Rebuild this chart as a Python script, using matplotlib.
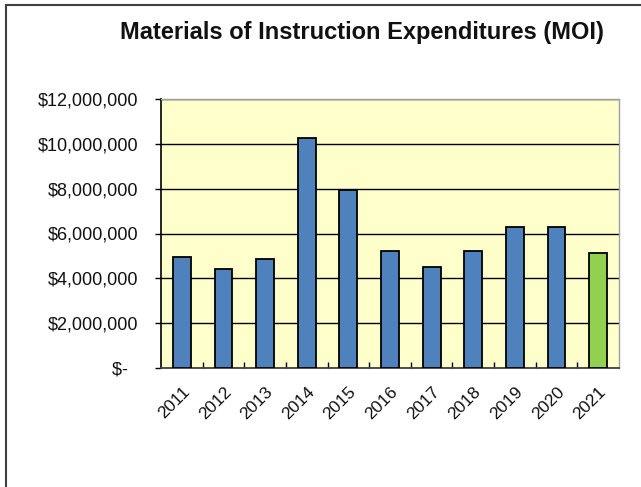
import matplotlib
matplotlib.use("Agg")
import matplotlib.pyplot as plt
from matplotlib.patches import Rectangle
from matplotlib.ticker import FuncFormatter, FixedLocator
from matplotlib.transforms import ScaledTranslation

years = ["2011", "2012", "2013", "2014", "2015", "2016", "2017", "2018", "2019", "2020", "2021"]
values = [4960000, 4400000, 4860000, 10280000, 7930000, 5220000, 4500000, 5220000, 6300000, 6300000, 5130000]
colors = ["#4F81BD"] * 10 + ["#92D050"]
yticks = [0, 2000000, 4000000, 6000000, 8000000, 10000000, 12000000]

plt.rcParams['font.family'] = ['Liberation Sans', 'DejaVu Sans']

W, H = 641, 487
fig = plt.figure(figsize=(W / 100, H / 100), dpi=100)
fig.patch.set_facecolor("white")

# outer chart border (cropped on right/bottom)
fig.patches.append(Rectangle((6 / W, -0.1), 1.2, (H - 5) / H + 0.1,
                             transform=fig.transFigure, fill=False,
                             edgecolor="#404040", linewidth=1.5))

left, right, top, bottom = 161, 619, 99.3, 367.7
ax = fig.add_axes([left / W, 1 - bottom / H, (right - left) / W, (bottom - top) / H])
ax.set_facecolor("#FFFFCC")

x = list(range(len(years)))
ax.bar(x, values, width=0.43, color=colors, edgecolor="black", linewidth=1.3, zorder=3)

ax.set_xlim(-0.5, len(years) - 0.5)
ax.set_ylim(0, 12000000)
ax.yaxis.set_major_locator(FixedLocator(yticks))

def fmt(v, pos):
    if v == 0:
        return "$-  "
    return "${:,.0f}".format(v)

ax.yaxis.set_major_formatter(FuncFormatter(fmt))
ax.grid(axis="y", color="black", linewidth=1.0, zorder=1)

ax.set_xticks(x)
ax.set_xticklabels(years, rotation=45, ha="right", va="top", rotation_mode="anchor",
                   fontsize=12.5, color="#111111")
shift = ScaledTranslation(-4 / 100, 0, fig.dpi_scale_trans)
for lbl in ax.get_xticklabels():
    lbl.set_transform(lbl.get_transform() + shift)
ax.tick_params(axis="x", length=0, pad=12)
ax.set_xticks([i + 0.5 for i in range(len(years) - 1)], minor=True)
ax.tick_params(axis="x", which="minor", direction="in", length=4.3, width=1, color="black")
ax.tick_params(axis="y", direction="out", length=4.3, width=1, pad=12,
               labelsize=13, labelcolor="#111111")

for s in ["top", "right"]:
    ax.spines[s].set_color("#A0A0A0")
    ax.spines[s].set_linewidth(1.0)
ax.spines["left"].set_color("black")
ax.spines["left"].set_linewidth(1.2)
ax.spines["bottom"].set_color("#404040")
ax.spines["bottom"].set_linewidth(1.3)

fig.text(362 / W, 1 - 32 / H, "Materials of Instruction Expenditures (MOI)",
         ha="center", va="center", fontsize=17, fontweight="bold", color="#111111")

fig.savefig("out.png", dpi=100)
